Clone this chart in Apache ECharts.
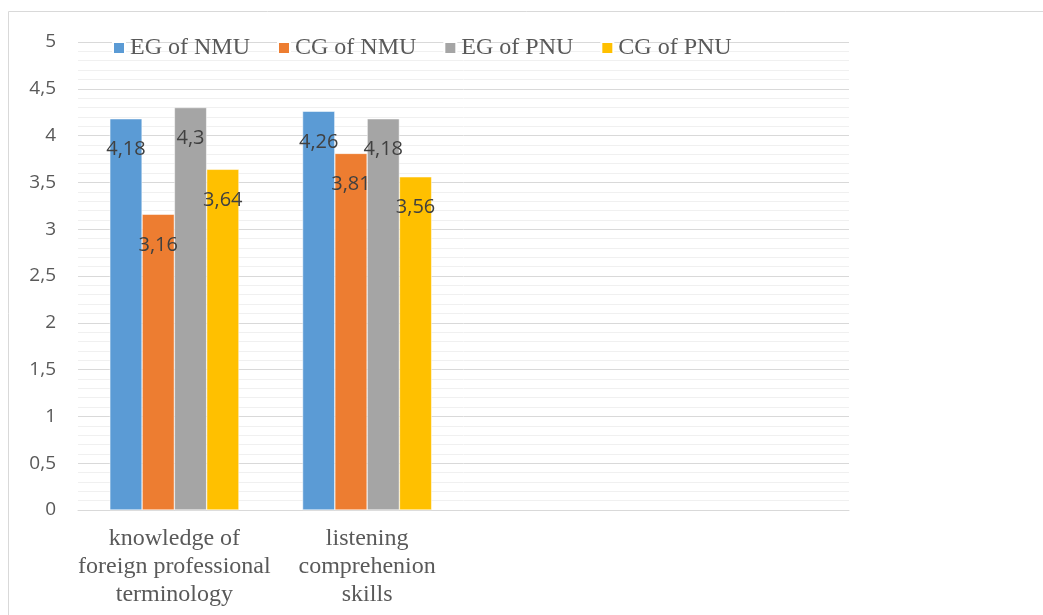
<!DOCTYPE html>
<html>
<head>
<meta charset="utf-8">
<script src="https://cdn.jsdelivr.net/npm/echarts@6/dist/echarts.min.js"></script>
<style>
  html, body { margin: 0; padding: 0; background: #fff; }
  #chart { width: 1043px; height: 615px; }
</style>
</head>
<body>
<div id="chart"></div>
<script>
// categories (two empty slots on the right, as in the original sheet)
const categories = [
  'knowledge of\nforeign professional\nterminology',
  'listening\ncomprehenion\nskills',
  '',
  ''
]
const seriesNames = ['EG of NMU', 'CG of NMU', 'EG of PNU', 'CG of PNU']
const egNmu = [4.18, 4.26, '-', '-']
const cgNmu = [3.16, 3.81, '-', '-']
const egPnu = [4.3, 4.18, '-', '-']
const cgPnu = [3.64, 3.56, '-', '-']
const colors = ['#5b9bd5', '#ed7d31', '#a5a5a5', '#ffc000']

const commaNum = v => String(v).replace('.', ',')

const chart = echarts.init(document.getElementById('chart'))

function makeSeries(name, data) {
  return {
    name: name,
    type: 'bar',
    barGap: '0%',
    barCategoryGap: '33%',
    data: data,
    itemStyle: { borderColor: '#fff', borderWidth: 0.5 },
    label: {
      show: true,
      position: 'insideTop',
      distance: 21,
      color: '#404040',
      fontFamily: 'Open Sans',
      fontSize: 20,
      formatter: p => commaNum(p.value)
    }
  }
}

chart.setOption({
  color: colors,
  animation: false,
  graphic: [{
    type: 'rect',
    shape: { x: 8.5, y: 11.5, width: 1100, height: 700 },
    style: { fill: 'none', stroke: '#d9d9d9', lineWidth: 1 },
    silent: true
  }],
  legend: {
    left: 112,
    top: 36,
    padding: 0,
    itemWidth: 12,
    itemHeight: 12,
    itemGap: 27,
    icon: 'rect',
    textStyle: {
      fontFamily: 'Liberation Serif',
      fontSize: 24,
      color: '#595959'
    },
    data: seriesNames
  },
  grid: {
    left: 78,
    right: 194,
    top: 42,
    bottom: 105
  },
  xAxis: {
    type: 'category',
    data: categories,
    axisTick: { show: false },
    axisLine: { lineStyle: { color: '#d9d9d9', width: 1 } },
    axisLabel: {
      interval: 0,
      margin: 15,
      color: '#595959',
      fontFamily: 'Liberation Serif',
      fontSize: 24,
      lineHeight: 28
    }
  },
  yAxis: {
    type: 'value',
    min: 0,
    max: 5,
    interval: 0.5,
    axisLine: { show: false },
    axisTick: { show: false },
    axisLabel: {
      margin: 22,
      color: '#595959',
      fontFamily: 'Open Sans',
      fontSize: 19,
      formatter: v => commaNum(v)
    },
    splitLine: { lineStyle: { color: '#d9d9d9', width: 1 } },
    minorTick: { show: false, splitNumber: 5 },
    minorSplitLine: { show: true, lineStyle: { color: '#f0f0f0', width: 1 } }
  },
  series: [
    makeSeries(seriesNames[0], egNmu),
    makeSeries(seriesNames[1], cgNmu),
    makeSeries(seriesNames[2], egPnu),
    makeSeries(seriesNames[3], cgPnu)
  ]
})
</script>
</body>
</html>
